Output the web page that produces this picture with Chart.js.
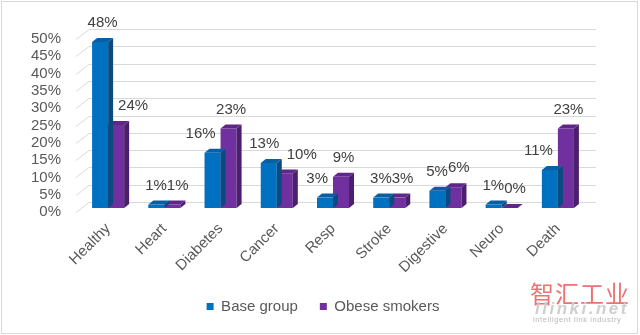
<!DOCTYPE html>
<html lang="en">
<head>
    <meta charset="UTF-8">
    <title>Base group vs obese smokers</title>
    <script src="https://cdn.jsdelivr.net/npm/chart.js"></script>
    <style>
        body {
            margin: 0;
            background-color: #ffffff;
            font-family: "Liberation Sans", Arial, sans-serif;
        }
        #wrap {
            position: relative;
            width: 640px;
            height: 335px;
        }
        #frame {
            position: absolute;
            left: 1px;
            top: 1px;
            width: 635px;
            height: 331px;
            border: 1px solid #d9d9d9;
            pointer-events: none;
        }
        .mark {
            position: absolute;
            white-space: nowrap;
        }
        #mark1 {
            left: 530px;
            top: 280px;
            font-family: "Noto Sans CJK SC", sans-serif;
            font-size: 24px;
            line-height: 26px;
            color: #ec7373;
            letter-spacing: 1px;
        }
        #mark2 {
            left: 535px;
            top: 301px;
            font-size: 17px;
            line-height: 16px;
            font-weight: bold;
            font-style: italic;
            color: #cfcfcf;
            letter-spacing: 2.5px;
        }
        #mark3 {
            left: 533px;
            top: 316px;
            font-size: 7.5px;
            line-height: 8px;
            color: #b8b8b8;
            letter-spacing: 0.6px;
        }
    </style>
</head>
<body>
<div id="wrap">
    <canvas id="grafica" width="640" height="335"></canvas>
    <div id="frame"></div>
    <div class="mark" id="mark1">智汇工业</div>
    <div class="mark" id="mark2">ilinki.net</div>
    <div class="mark" id="mark3">intelligent link industry</div>
</div>

<script>
    const categorias = ["Healthy", "Heart", "Diabetes", "Cancer", "Resp", "Stroke", "Digestive", "Neuro", "Death"];
    const baseGroup = [48, 1, 16, 13, 3, 3, 5, 1, 11];
    const obeseSmokers = [24, 1, 23, 10, 9, 3, 6, 0, 23];
    const series = ["Base group", "Obese smokers"];
    const yTicks = [0, 5, 10, 15, 20, 25, 30, 35, 40, 45, 50];

    const fuente = "'Liberation Sans', Arial, sans-serif";
    const dx = 5, dy = 4;

    // back wall gridlines with the little slanted stub on the left
    const rejilla = {
        id: 'rejilla',
        beforeDatasetsDraw(chart) {
            const ctx = chart.ctx;
            const y = chart.scales.y;
            const a = chart.chartArea;
            ctx.save();
            ctx.strokeStyle = '#d9d9d9';
            ctx.lineWidth = 1;
            yTicks.forEach(v => {
                const py = Math.round(y.getPixelForValue(v)) + 0.5;
                ctx.beginPath();
                ctx.moveTo(a.left - 4, py + 4);
                ctx.lineTo(a.left + 9, py - 6);
                ctx.lineTo(a.right + 10, py - 6);
                ctx.stroke();
            });
            ctx.restore();
        }
    };

    // top and side faces for the 3D look
    const caras = {
        id: 'caras',
        afterDatasetDraw(chart, args) {
            const ctx = chart.ctx;
            const ds = chart.data.datasets[args.index];
            ctx.save();
            args.meta.data.forEach(bar => {
                const p = bar.getProps(['x', 'y', 'base', 'width'], true);
                const l = p.x - p.width / 2, r = p.x + p.width / 2;
                ctx.fillStyle = ds.sideColor;
                ctx.beginPath();
                ctx.moveTo(r, p.y);
                ctx.lineTo(r + dx, p.y - dy);
                ctx.lineTo(r + dx, p.base - dy);
                ctx.lineTo(r, p.base);
                ctx.closePath();
                ctx.fill();
                ctx.fillStyle = ds.topColor;
                ctx.beginPath();
                ctx.moveTo(l, p.y);
                ctx.lineTo(l + dx, p.y - dy);
                ctx.lineTo(r + dx, p.y - dy);
                ctx.lineTo(r, p.y);
                ctx.closePath();
                ctx.fill();
            });
            ctx.restore();
        }
    };

    // value labels, moved aside when they would hit each other or the other bar
    const etiquetas = {
        id: 'etiquetas',
        afterDatasetsDraw(chart) {
            const ctx = chart.ctx;
            ctx.save();
            ctx.font = '15px ' + fuente;
            ctx.fillStyle = '#404040';
            ctx.textAlign = 'center';
            ctx.textBaseline = 'middle';
            const m0 = chart.getDatasetMeta(0).data;
            const m1 = chart.getDatasetMeta(1).data;
            categorias.forEach((c, i) => {
                const b0 = m0[i], b1 = m1[i];
                const t0 = baseGroup[i] + '%';
                const t1 = obeseSmokers[i] + '%';
                const w0 = ctx.measureText(t0).width;
                const w1 = ctx.measureText(t1).width;
                let x0 = b0.x + dx / 2, x1 = b1.x + dx / 2;
                const y0 = b0.y - 19, y1 = b1.y - 19;
                if (Math.abs(y0 - y1) < 15) {
                    const gap = (x1 - x0) - (w0 + w1) / 2;
                    if (gap < 0) {
                        x0 += gap / 2;
                        x1 -= gap / 2;
                    }
                }
                if (y0 + 8 > b1.y - dy && x0 + w0 / 2 > b1.x - b1.width / 2) {
                    x0 = b1.x - b1.width / 2 - w0 / 2 - 5;
                }
                if (y1 + 8 > b0.y - dy && x1 - w1 / 2 < b0.x + b0.width / 2 + dx) {
                    x1 = b0.x + b0.width / 2 + dx + w1 / 2 + 5;
                }
                ctx.fillText(t0, x0, y0);
                ctx.fillText(t1, x1, y1);
            });
            ctx.restore();
        }
    };

    // nudge the legend so it sits centred under the whole picture
    const leyenda = {
        id: 'leyenda',
        afterLayout(chart) {
            chart.legend.left += 30;
            chart.legend.right += 30;
        }
    };

    new Chart(document.getElementById('grafica').getContext('2d'), {
        type: 'bar',
        data: {
            labels: categorias,
            datasets: [{
                label: series[0],
                data: baseGroup,
                backgroundColor: '#0070c0',
                topColor: '#0a5fa3',
                sideColor: '#0b4b80',
                categoryPercentage: 0.57,
                barPercentage: 1
            }, {
                label: series[1],
                data: obeseSmokers,
                backgroundColor: '#7030a0',
                topColor: '#5f2888',
                sideColor: '#4a1f6b',
                categoryPercentage: 0.57,
                barPercentage: 1
            }]
        },
        options: {
            responsive: false,
            animation: false,
            layout: { padding: { left: 0, right: 54, top: 35, bottom: 11 } },
            plugins: {
                tooltip: { enabled: false },
                legend: {
                    position: 'bottom',
                    labels: {
                        boxWidth: 7,
                        boxHeight: 7,
                        padding: 22,
                        color: '#595959',
                        font: { family: fuente, size: 15 }
                    }
                }
            },
            scales: {
                x: {
                    grid: { display: false, drawTicks: false },
                    border: { display: false },
                    ticks: {
                        maxRotation: 45,
                        minRotation: 45,
                        padding: 12,
                        color: '#595959',
                        font: { family: fuente, size: 15 }
                    },
                    afterFit(s) { s.height = 69; }
                },
                y: {
                    min: 0,
                    max: 50,
                    grid: { display: false },
                    border: { display: false },
                    afterBuildTicks(s) { s.ticks = yTicks.map(v => ({ value: v })); },
                    ticks: {
                        autoSkip: false,
                        padding: 11,
                        labelOffset: 4,
                        color: '#595959',
                        font: { family: fuente, size: 15 },
                        callback: v => v + '%'
                    },
                    afterFit(s) { s.width = 80; }
                }
            }
        },
        plugins: [rejilla, caras, etiquetas, leyenda]
    });
</script>
</body>
</html>
